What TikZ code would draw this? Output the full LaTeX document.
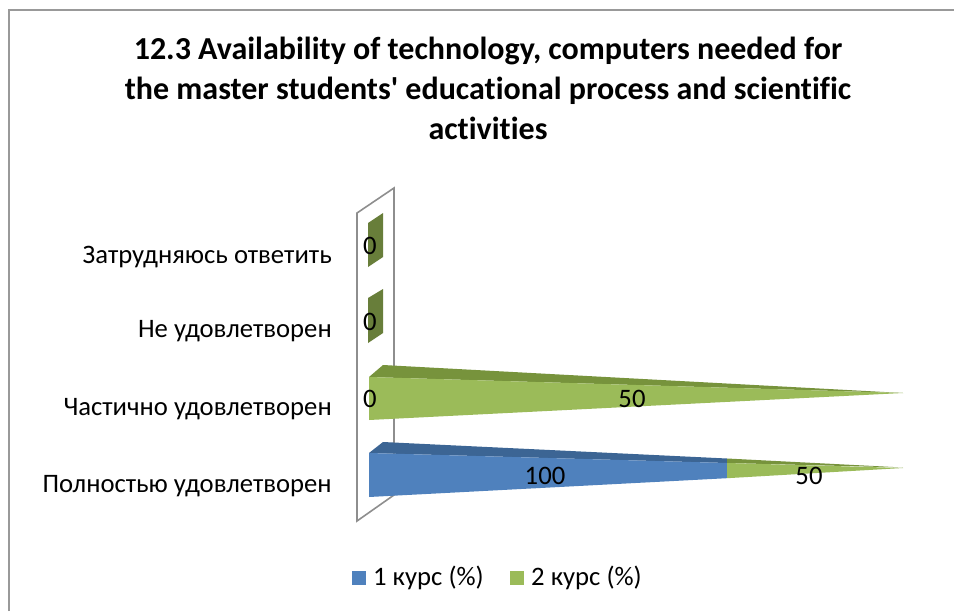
\documentclass[tikz,border=0pt]{standalone}
\usepackage{fontspec}
\setmainfont{Carlito}
\newfontfamily\plainfont{Carlito}[Ligatures={NoCommon}]
\usetikzlibrary{positioning}
\definecolor{serblue}{HTML}{4F81BD}
\definecolor{serbluetop}{HTML}{3C6594}
\definecolor{sergreen}{HTML}{9BBB59}
\definecolor{sergreentop}{HTML}{77933C}
\definecolor{serzero}{HTML}{687E3A}
\definecolor{wallgray}{HTML}{8E8E8E}
\tikzset{
    catlabel/.style = {anchor=east, inner sep=0pt, font=\plainfont\fontsize{20}{24}\selectfont, text=black},
    vallabel/.style = {inner sep=0pt, font=\plainfont\fontsize{20}{24}\selectfont, text=black},
    legtext/.style = {anchor=west, inner sep=0pt, font=\plainfont\fontsize{20}{24}\selectfont, text=black},
    legbox/.style = {minimum size=10.5pt, inner sep=0pt},
    titletext/.style = {align=center, font=\plainfont\fontsize{24}{30}\selectfont\bfseries},
    wall/.style = {draw=wallgray, line width=1.2pt, fill=white},
    frameline/.style = {draw=wallgray!90, line width=1.4pt}
}
\begin{document}
\begin{tikzpicture}[x=0.75pt, y=-0.75pt]
\useasboundingbox (0,0) rectangle (954,611);
% chart frame
\draw[frameline] (9,611) -- (9,10) -- (954,10);
%
\node[titletext] (title) at (488,88) {12.3 Availability of technology, computers needed for\\the master students' educational process and scientific\\activities};
% back wall
\draw[wall] (357,213) -- (394,188) -- (394,495) -- (357,521) -- cycle;
% zero bars
\fill[serzero] (368,223) -- (383,213) -- (383,257) -- (368,267) -- cycle;
\fill[serzero] (368,298) -- (383,289) -- (383,333) -- (368,343) -- cycle;
% Частично удовлетворен
\fill[sergreentop] (369,377) -- (383,365) -- (903,393) -- cycle;
\fill[sergreen] (369,377) -- (903,393) -- (369,420) -- cycle;
% Полностью удовлетворен
\fill[serbluetop] (369,453) -- (383,442) -- (727,458.5) -- (727,463) -- cycle;
\fill[sergreentop] (727,458.5) -- (903,467.5) -- (727,463) -- cycle;
\fill[serblue] (369,453) -- (727,463) -- (727,478.2) -- (369,497) -- cycle;
\fill[sergreen] (727,463) -- (903,468) -- (727,478.2) -- cycle;
% value labels
\node[vallabel] (v4a) at (370,246) {0};
\node[vallabel] (v3a) at (370,322) {0};
\node[vallabel] (v2a) at (370,399) {0};
\node[vallabel] (v2b) at (632,399) {50};
\node[vallabel] (v1a) at (545,476) {100};
\node[vallabel] (v1b) at (809,476) {50};
% category labels
\node[catlabel] (c4) at (332,257) {Затрудняюсь ответить};
\node[catlabel] (c3) at (332,331) {Не удовлетворен};
\node[catlabel] (c2) at (332,409) {Частично удовлетворен};
\node[catlabel] (c1) at (332,486) {Полностью удовлетворен};
% legend
\node[legbox, fill=serblue] (k1) at (359,578) {};
\node[legtext, right=5pt of k1] (l1) {1 курс (\%)};
\node[legbox, fill=sergreen] (k2) at (517,578) {};
\node[legtext, right=5pt of k2] (l2) {2 курс (\%)};
\end{tikzpicture}
\end{document}
